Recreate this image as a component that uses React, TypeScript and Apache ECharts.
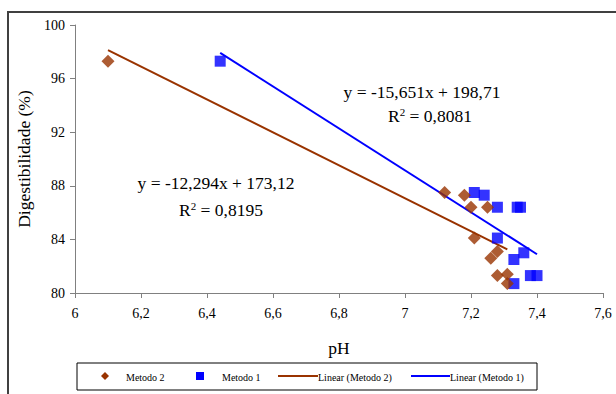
import React, { useEffect, useRef } from "react";
import * as echarts from "echarts";

const metodo2: [number, number][] = [
  [6.1, 97.3],
  [7.12, 87.5],
  [7.18, 87.3],
  [7.2, 86.4],
  [7.25, 86.4],
  [7.21, 84.1],
  [7.28, 83.1],
  [7.26, 82.6],
  [7.28, 81.3],
  [7.31, 81.4],
  [7.31, 80.7],
];

const metodo1: [number, number][] = [
  [6.44, 97.3],
  [7.21, 87.5],
  [7.24, 87.3],
  [7.28, 86.4],
  [7.34, 86.4],
  [7.35, 86.4],
  [7.28, 84.1],
  [7.36, 83.0],
  [7.33, 82.5],
  [7.38, 81.3],
  [7.4, 81.3],
  [7.33, 80.7],
];

// Trendline coefficients (slope, intercept) as printed on the chart
const trend2Coef = [-12.294, 173.12];
const trend1Coef = [-15.651, 198.71];
const trend2Range = [6.1, 7.31];
const trend1Range = [6.44, 7.4];

const xTicks = { min: 6, max: 7.6, interval: 0.2 };
const yTicks = { min: 80, max: 100, interval: 4 };

const BROWN = "#993300";
const BLUE = "#0000FF";
const FONT = "'Liberation Serif', 'Times New Roman', serif";

function linePts(coef: number[], range: number[]): [number, number][] {
  return range.map((x) => [x, coef[0] * x + coef[1]] as [number, number]);
}

export default function App() {
  const ref = useRef<HTMLDivElement>(null);
  useEffect(() => {
    if (!ref.current) return;
    const chart = echarts.init(ref.current, null, { renderer: "svg" });
    const fmt = (v: number) => {
      const s = Number(v.toFixed(1)).toString();
      return s.replace(".", ",");
    };
    const axisLine = { lineStyle: { color: "#808080", width: 1 } };
    const eqRich = {
      a: { fontFamily: FONT, fontSize: 17.5, fill: "#000" },
      s: { fontFamily: FONT, fontSize: 11, fill: "#000", verticalAlign: "top", padding: [0, 0, 8, 0] },
    };
    chart.setOption({
      animation: false,
      backgroundColor: "#ffffff",
      grid: { left: 75, right: 13, top: 25, bottom: 101 },
      xAxis: {
        type: "value",
        min: xTicks.min,
        max: xTicks.max,
        interval: xTicks.interval,
        name: "pH",
        nameLocation: "middle",
        nameGap: 46,
        nameTextStyle: { fontFamily: FONT, fontSize: 17.5, color: "#000" },
        axisLine: { show: true, ...axisLine },
        axisTick: { show: true, length: 5, lineStyle: { color: "#808080" } },
        splitLine: { show: false },
        axisLabel: {
          formatter: fmt,
          fontFamily: FONT,
          fontSize: 14,
          color: "#000",
          margin: 13,
        },
      },
      yAxis: {
        type: "value",
        min: yTicks.min,
        max: yTicks.max,
        interval: yTicks.interval,
        name: "Digestibilidade (%)",
        nameLocation: "middle",
        nameGap: 42,
        nameTextStyle: { fontFamily: FONT, fontSize: 17.5, color: "#000" },
        axisLine: { show: true, ...axisLine },
        axisTick: { show: true, length: 5, lineStyle: { color: "#808080" } },
        splitLine: { show: false },
        axisLabel: {
          fontFamily: FONT,
          fontSize: 14,
          color: "#000",
          margin: 10,
        },
      },
      series: [
        {
          name: "Linear (Metodo 2)",
          type: "line",
          data: linePts(trend2Coef, trend2Range),
          showSymbol: false,
          lineStyle: { color: BROWN, width: 2 },
          z: 1,
        },
        {
          name: "Linear (Metodo 1)",
          type: "line",
          data: linePts(trend1Coef, trend1Range),
          showSymbol: false,
          lineStyle: { color: BLUE, width: 2 },
          z: 1,
        },
        {
          name: "Metodo 2",
          type: "scatter",
          data: metodo2,
          symbol: "diamond",
          symbolSize: 13,
          itemStyle: { color: BROWN },
          z: 3,
        },
        {
          name: "Metodo 1",
          type: "scatter",
          data: metodo1,
          symbol: "rect",
          symbolSize: 11,
          itemStyle: { color: BLUE },
          z: 2,
        },
      ],
      graphic: [
        {
          type: "rect",
          shape: { x: 8, y: 12, width: 700, height: 500 },
          style: { fill: "none", stroke: "#404040", lineWidth: 2 },
          silent: true,
        },
        {
          type: "text",
          x: 422,
          y: 92,
          style: {
            text: "y = -15,651x + 198,71",
            font: `17.5px ${FONT}`,
            fill: "#000",
            align: "center",
            verticalAlign: "middle",
          },
        },
        {
          type: "text",
          x: 430,
          y: 116,
          style: {
            text: "{a|R}{s|2}{a| = 0,8081}",
            align: "center",
            verticalAlign: "middle",
            rich: eqRich,
          },
        },
        {
          type: "text",
          x: 216,
          y: 183,
          style: {
            text: "y = -12,294x + 173,12",
            font: `17.5px ${FONT}`,
            fill: "#000",
            align: "center",
            verticalAlign: "middle",
          },
        },
        {
          type: "text",
          x: 221,
          y: 210,
          style: {
            text: "{a|R}{s|2}{a| = 0,8195}",
            align: "center",
            verticalAlign: "middle",
            rich: eqRich,
          },
        },
        // legend
        {
          type: "rect",
          shape: { x: 77, y: 363, width: 460, height: 27 },
          style: { fill: "#fff", stroke: "#000", lineWidth: 1 },
        },
        {
          type: "polygon",
          shape: { points: [[105, 372], [109, 376], [105, 380], [101, 376]] },
          style: { fill: BROWN },
        },
        {
          type: "text",
          x: 126,
          y: 377,
          style: { text: "Metodo 2", font: `10px ${FONT}`, fill: "#000", verticalAlign: "middle" },
        },
        {
          type: "rect",
          shape: { x: 196, y: 372, width: 8, height: 8 },
          style: { fill: BLUE },
        },
        {
          type: "text",
          x: 222,
          y: 377,
          style: { text: "Metodo 1", font: `10px ${FONT}`, fill: "#000", verticalAlign: "middle" },
        },
        {
          type: "line",
          shape: { x1: 278, y1: 376, x2: 318, y2: 376 },
          style: { stroke: BROWN, lineWidth: 2 },
        },
        {
          type: "text",
          x: 318,
          y: 377,
          style: { text: "Linear (Metodo 2)", font: `10px ${FONT}`, fill: "#000", verticalAlign: "middle" },
        },
        {
          type: "line",
          shape: { x1: 411, y1: 376, x2: 450, y2: 376 },
          style: { stroke: BLUE, lineWidth: 2 },
        },
        {
          type: "text",
          x: 450,
          y: 377,
          style: { text: "Linear (Metodo 1)", font: `10px ${FONT}`, fill: "#000", verticalAlign: "middle" },
        },
      ],
    });
    return () => chart.dispose();
  }, []);
  return (
    <div
      ref={ref}
      style={{ position: "fixed", left: 0, top: 0, width: 616, height: 394 }}
    />
  );
}
